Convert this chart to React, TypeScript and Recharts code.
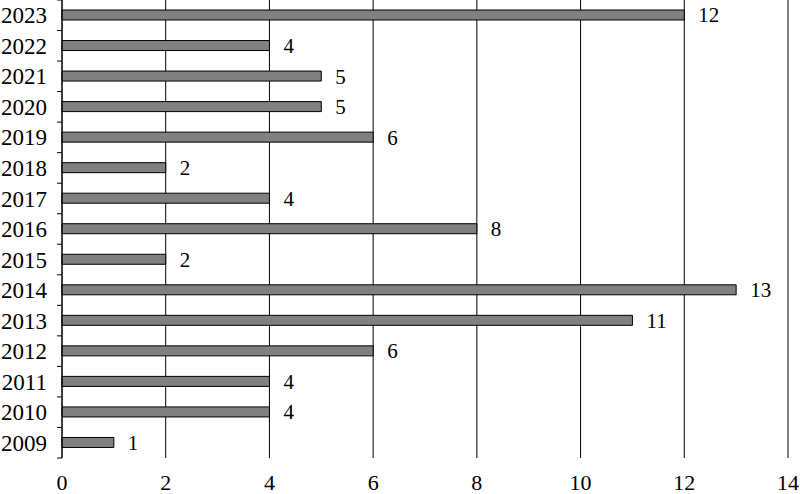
import React from 'react';
import { BarChart, Bar, XAxis, YAxis, CartesianGrid, LabelList } from 'recharts';

const years = ['2023', '2022', '2021', '2020', '2019', '2018', '2017', '2016', '2015', '2014', '2013', '2012', '2011', '2010', '2009'];
const counts = [12, 4, 5, 5, 6, 2, 4, 8, 2, 13, 11, 6, 4, 4, 1];
const xTicks = [0, 2, 4, 6, 8, 10, 12, 14];

const data = years.map((y, i) => ({ year: y, count: counts[i] }));

const FONT = "'Liberation Serif', 'Times New Roman', serif";

const YTick = (props: any) => {
  const { x, y, payload, index } = props;
  const off = payload && payload.offset ? payload.offset : 0;
  const axisX = x + 15;
  return (
    <g>
      <text x={x} y={y} dy="0.35em" textAnchor="end" style={{ fontFamily: FONT, fontSize: 23 }} fill="#000">
        {payload.value}
      </text>
      <line x1={axisX - 5} x2={axisX} y1={y + off} y2={y + off} stroke="#000" strokeWidth={1} />
      {index === 0 ? (
        <line x1={axisX - 5} x2={axisX} y1={y - off} y2={y - off} stroke="#000" strokeWidth={1} />
      ) : null}
    </g>
  );
};

export default function App() {
  return (
    <div style={{ position: 'absolute', left: 0, top: 0, width: 800, height: 494, background: '#fff', fontFamily: FONT }}>
      <BarChart
        width={800}
        height={494}
        data={data}
        layout="vertical"
        margin={{ top: 0, right: 12, bottom: 0, left: 0 }}
        barCategoryGap={0}
        style={{ fontFamily: FONT }}
      >
        <CartesianGrid horizontal={false} vertical={true} stroke="#000" strokeWidth={1} />
        <XAxis
          type="number"
          domain={[0, 14]}
          ticks={xTicks}
          axisLine={false}
          tickLine={false}
          height={36}
          tickSize={6}
          tickMargin={10}
          tick={{ fontFamily: FONT, fontSize: 22, fill: '#000', style: { fontFamily: FONT } }}
        />
        <YAxis
          type="category"
          dataKey="year"
          width={62}
          axisLine={{ stroke: '#000', strokeWidth: 1 }}
          tickLine={false}
          tickSize={5}
          tickMargin={10}
          tick={<YTick />}
          interval={0}
        />
        <Bar dataKey="count" fill="#808080" stroke="#000" strokeWidth={1} barSize={10} isAnimationActive={false}>
          <LabelList dataKey="count" position="right" offset={14} fontFamily={FONT} fontSize={21} fill="#000" style={{ fontFamily: FONT }} />
        </Bar>
      </BarChart>
    </div>
  );
}
